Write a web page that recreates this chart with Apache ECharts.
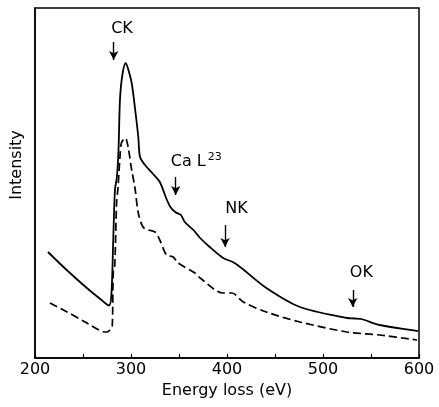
<!DOCTYPE html>
<html>
<head>
<meta charset="utf-8">
<script src="https://cdn.jsdelivr.net/npm/echarts@6/dist/echarts.min.js"></script>
<style>html,body{margin:0;padding:0;background:#fff;}#c{width:439px;height:407px;}</style>
</head>
<body>
<div id="c"></div>
<script>
// Energy loss (eV) and intensity (arbitrary units)
const solidEnergy = [213.5,233,254,268,277,279.5,281.6,283.3,285.3,287,288.5,291,294.5,297,300.7,304,307.6,309.4,314.6,323,330,337,341,346,352,356,365,372,382,396,406,415,441,476,525,533,540,559,599];
const solidIntensity = [106,88,70,59,52.5,62,121,168,181,208,258,283,295,289,275,251,221,201,193,184,176,159,151,146,143,136,128,120,111,100,96,90,70,51,40,39.5,39,33,27];
const dashedEnergy = [215.6,233,254,271,275,279,280.5,281.6,283,285,286.5,288.5,290,294,297,300.7,304,307.6,312.5,318,325,330,337,344,349,366.7,372,396,405,417,441,476,525,559,598];
const dashedIntensity = [55,46.3,35,26.3,26,29,32,88,91,155,171,201,215,220,211,188,171,145,131,128,126,118,103,101,95,85,80,65,65,56,46,36,26,23,18];
const xTicks = [200,300,400,500,600];
// Edge annotations: arrow energy, arrow top/bottom intensity, label position
const edgeNames = ['CK','CaL','NK','OK'];
const arrowEnergy = [282,346.6,398,531];
const arrowTop = [316,181,133,68];
const arrowBottom = [298,163,111,51];
const labelEnergy = [290.6,368,410,540];
const labelIntensity = [329,196.5,149,85];
const labelText = ['CK','{a|Ca L}{s|23}','NK','OK'];

const solid = solidEnergy.map((e,i)=>[e,solidIntensity[i]]);
const dashed = dashedEnergy.map((e,i)=>[e,dashedIntensity[i]]);

const font = 'DejaVu Sans, Verdana, sans-serif';

const markLines = arrowEnergy.map((e,i)=>[
  {coord:[e,arrowTop[i]], symbol:'none'},
  {coord:[e,arrowBottom[i]], symbol:'arrow'}
]);
const markPoints = labelEnergy.map((e,i)=>({
  coord:[e,labelIntensity[i]],
  value: labelText[i]
}));

const chart = echarts.init(document.getElementById('c'), null, {renderer:'canvas'});
chart.setOption({
  animation:false,
  backgroundColor:'#fff',
  grid:{left:35,right:20,top:8,bottom:49,show:true,borderColor:'#000',borderWidth:1.5,backgroundColor:'transparent'},
  xAxis:{
    type:'value',min:200,max:600,interval:50,
    axisLine:{show:true,lineStyle:{color:'#000',width:1.5}},
    axisTick:{show:true,inside:true,length:4,lineStyle:{color:'#000',width:1.2}},
    splitLine:{show:false},
    axisLabel:{color:'#000',fontFamily:font,fontSize:16,margin:4,
      formatter:v=> xTicks.indexOf(v)>=0 ? String(v) : ''},
    name:'Energy loss (eV)',nameLocation:'middle',nameGap:22,
    nameTextStyle:{color:'#000',fontFamily:font,fontSize:16}
  },
  yAxis:{
    type:'value',min:0,max:350,
    axisLine:{show:true,lineStyle:{color:'#000',width:1.5}},
    axisTick:{show:false},axisLabel:{show:false},splitLine:{show:false},
    name:'Intensity',nameLocation:'middle',nameGap:10,
    nameTextStyle:{color:'#000',fontFamily:font,fontSize:16,padding:[0,0,0,36]}
  },
  series:[
    {type:'line',data:solid,showSymbol:false,smooth:0.3,
      lineStyle:{color:'#000',width:1.8},
      markLine:{silent:true,symbolSize:[7,9],label:{show:false},
        lineStyle:{color:'#000',width:1.4,type:'solid'},data:markLines},
      markPoint:{symbol:'circle',symbolSize:0,silent:true,
        label:{show:true,color:'#000',fontFamily:font,fontSize:16,
          formatter:p=>p.value,
          rich:{a:{fontFamily:font,fontSize:16,color:'#000'},s:{fontFamily:font,fontSize:11,color:'#000',padding:[0,0,9,2]}}},
        data:markPoints}
    },
    {type:'line',data:dashed,showSymbol:false,smooth:0.3,
      lineStyle:{color:'#000',width:1.7,type:[8,4]}}
  ]
});
</script>
</body>
</html>
